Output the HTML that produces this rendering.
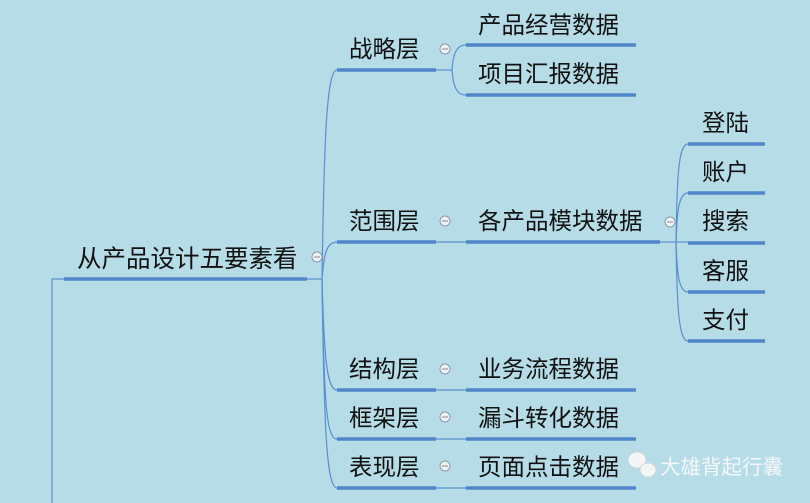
<!DOCTYPE html>
<html><head><meta charset="utf-8"><style>
html,body{margin:0;padding:0;background:#b6dce8;}
svg{display:block}
text{font-family:"Liberation Sans","Noto Sans CJK SC",sans-serif;fill:#111;}
</style></head><body>
<svg width="810" height="503" viewBox="0 0 810 503" xmlns="http://www.w3.org/2000/svg">
<rect width="810" height="503" fill="#b6dce8"/>
<g fill="none" stroke="#5b8fcf" stroke-width="1.2">
<path d="M52,503 V279 H64"/>
<path d="M307,279 H322"/>
<path d="M322,279 C324,150 326,70 337,70"/>
<path d="M322,279 C324,255 326,242 337,242"/>
<path d="M322,279 C324,350 326,390 337,390"/>
<path d="M322,279 C324,400 326,439 337,439"/>
<path d="M322,279 C324,420 326,488 337,488"/>
<path d="M436,70 H452"/>
<path d="M452,70 C453,55 456,45 466,45"/>
<path d="M452,70 C453,85 456,95 466,95"/>
<path d="M436,242 H466"/>
<path d="M436,390 H466"/>
<path d="M436,439 H466"/>
<path d="M436,488 H466"/>
<path d="M660,242 H676"/>
<path d="M676,242 C677,180 678,144 688,144"/>
<path d="M676,242 C677,215 678,193 688,193"/>
<path d="M676,242 H688"/>
<path d="M676,242 C677,270 678,292 688,292"/>
<path d="M676,242 C677,300 678,341 688,341"/>
</g>
<g stroke="#4f86c9" stroke-width="3.5">
<line x1="64" y1="279" x2="307" y2="279"/>
<line x1="337" y1="70" x2="436" y2="70"/>
<line x1="337" y1="242" x2="436" y2="242"/>
<line x1="337" y1="390" x2="436" y2="390"/>
<line x1="337" y1="439" x2="436" y2="439"/>
<line x1="337" y1="488" x2="436" y2="488"/>
<line x1="466" y1="45" x2="636" y2="45"/>
<line x1="466" y1="95" x2="636" y2="95"/>
<line x1="466" y1="242" x2="660" y2="242"/>
<line x1="466" y1="390" x2="636" y2="390"/>
<line x1="466" y1="439" x2="636" y2="439"/>
<line x1="466" y1="488" x2="636" y2="488"/>
<line x1="688" y1="144" x2="765" y2="144"/>
<line x1="688" y1="193" x2="765" y2="193"/>
<line x1="688" y1="243" x2="765" y2="243"/>
<line x1="688" y1="292" x2="765" y2="292"/>
<line x1="688" y1="341" x2="765" y2="341"/>
</g>
<g fill="#eef2f6" stroke="#8a9aa8" stroke-width="1">
<circle cx="317" cy="257" r="5"/>
<circle cx="445" cy="49" r="5"/>
<circle cx="445" cy="221" r="5"/>
<circle cx="445" cy="369" r="5"/>
<circle cx="445" cy="417" r="5"/>
<circle cx="445" cy="466" r="5"/>
<circle cx="670" cy="222" r="5"/>
</g>
<g stroke="#888" stroke-width="1">
<line x1="314" y1="257" x2="320" y2="257"/><line x1="442" y1="49" x2="448" y2="49"/>
<line x1="442" y1="221" x2="448" y2="221"/><line x1="442" y1="369" x2="448" y2="369"/>
<line x1="442" y1="417" x2="448" y2="417"/><line x1="442" y1="466" x2="448" y2="466"/>
<line x1="667" y1="222" x2="673" y2="222"/>
</g>
<text x="77" y="267" font-size="24.5">从产品设计五要素看</text>
<g font-size="23.5">
<text x="349" y="57">战略层</text>
<text x="349" y="229">范围层</text>
<text x="349" y="377">结构层</text>
<text x="349" y="426">框架层</text>
<text x="349" y="475">表现层</text>
<text x="478" y="33">产品经营数据</text>
<text x="478" y="82">项目汇报数据</text>
<text x="478" y="229">各产品模块数据</text>
<text x="478" y="377">业务流程数据</text>
<text x="478" y="426">漏斗转化数据</text>
<text x="478" y="475">页面点击数据</text>
<text x="702" y="131">登陆</text>
<text x="702" y="180">账户</text>
<text x="702" y="229">搜索</text>
<text x="702" y="279">客服</text>
<text x="702" y="328">支付</text>
</g>
<g fill="#f4f6f6" stroke="#c9d4d8" stroke-width="0.8">
<ellipse cx="637" cy="460" rx="9" ry="8"/>
<ellipse cx="648" cy="470" rx="8" ry="7"/>
</g>
<text x="660" y="474" font-size="20.5" style="fill:#f4f7f8">大雄背起行囊</text>
</svg>
</body></html>
